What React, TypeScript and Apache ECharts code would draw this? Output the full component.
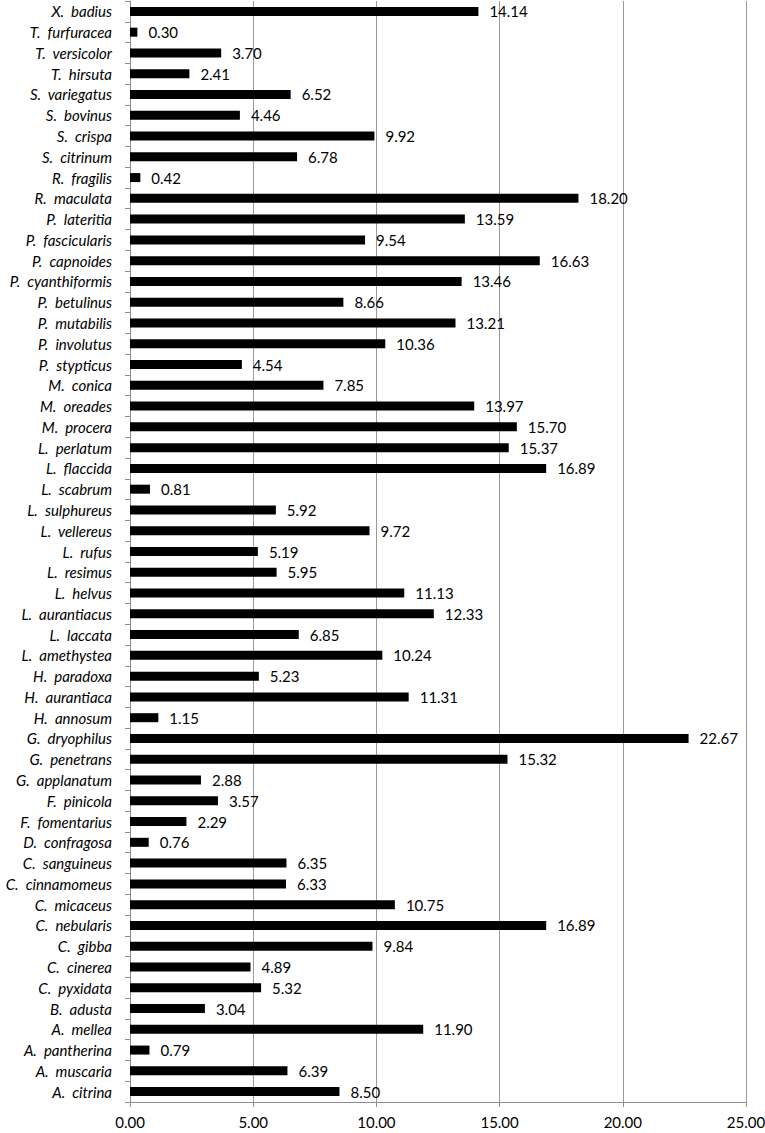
import React, { useEffect, useRef } from "react";
import * as echarts from "echarts";

const categories = [
  "X.  badius", "T.  furfuracea", "T.  versicolor", "T.  hirsuta", "S.  variegatus", "S.  bovinus",
  "S.  crispa", "S.  citrinum", "R.  fragilis", "R.  maculata", "P.  lateritia", "P.  fascicularis",
  "P.  capnoides", "P.  cyanthiformis", "P.  betulinus", "P.  mutabilis", "P.  involutus", "P.  stypticus",
  "M.  conica", "M.  oreades", "M.  procera", "L.  perlatum", "L.  flaccida", "L.  scabrum",
  "L.  sulphureus", "L.  vellereus", "L.  rufus", "L.  resimus", "L.  helvus", "L.  aurantiacus",
  "L.  laccata", "L.  amethystea", "H.  paradoxa", "H.  aurantiaca", "H.  annosum", "G.  dryophilus",
  "G.  penetrans", "G.  applanatum", "F.  pinicola", "F.  fomentarius", "D.  confragosa", "C.  sanguineus",
  "C.  cinnamomeus", "C.  micaceus", "C.  nebularis", "C.  gibba", "C.  cinerea", "C.  pyxidata",
  "B.  adusta", "A.  mellea", "A.  pantherina", "A.  muscaria", "A.  citrina",
];

const values = [
  14.14, 0.3, 3.7, 2.41, 6.52, 4.46,
  9.92, 6.78, 0.42, 18.2, 13.59, 9.54,
  16.63, 13.46, 8.66, 13.21, 10.36, 4.54,
  7.85, 13.97, 15.7, 15.37, 16.89, 0.81,
  5.92, 9.72, 5.19, 5.95, 11.13, 12.33,
  6.85, 10.24, 5.23, 11.31, 1.15, 22.67,
  15.32, 2.88, 3.57, 2.29, 0.76, 6.35,
  6.33, 10.75, 16.89, 9.84, 4.89, 5.32,
  3.04, 11.9, 0.79, 6.39, 8.5,
];

const xTicks = { min: 0, max: 25, interval: 5 };

export default function App() {
  const ref = useRef<HTMLDivElement>(null);
  useEffect(() => {
    if (!ref.current) return;
    const chart = echarts.init(ref.current, undefined, { renderer: "svg" });
    const font = "Lato, 'Open Sans', sans-serif";
    chart.setOption({
      animation: false,
      grid: { left: 130, right: 19, top: 1, bottom: 31, containLabel: false, outerBoundsMode: "none" },
      xAxis: {
        type: "value",
        min: xTicks.min,
        max: xTicks.max,
        interval: xTicks.interval,
        axisLine: { show: true, lineStyle: { color: "#8c8c8c", width: 1 } },
        axisTick: { show: true, length: 5, lineStyle: { color: "#8c8c8c" } },
        splitLine: { show: true, lineStyle: { color: "#9a9a9a", width: 1 } },
        axisLabel: {
          formatter: (v: number) => v.toFixed(2),
          color: "#000",
          fontSize: 15,
          fontFamily: font,
          margin: 12,
        },
      },
      yAxis: {
        type: "category",
        data: categories,
        inverse: true,
        axisLine: { show: true, lineStyle: { color: "#8c8c8c", width: 1 } },
        axisTick: { show: true, length: 5, lineStyle: { color: "#8c8c8c" } },
        axisLabel: {
          interval: 0,
          color: "#000",
          fontSize: 15,
          fontStyle: "italic",
          fontFamily: font,
          margin: 18,
        },
      },
      series: [
        {
          type: "bar",
          data: values,
          barWidth: 9,
          itemStyle: { color: "#000" },
          label: {
            show: true,
            position: "right",
            distance: 11,
            formatter: (p: any) => Number(p.value).toFixed(2),
            color: "#000",
            fontSize: 15,
            fontFamily: font,
          },
        },
      ],
    });
    return () => chart.dispose();
  }, []);
  return <div ref={ref} style={{ width: 765, height: 1133, position: "absolute", left: 0, top: 0 }} />;
}
